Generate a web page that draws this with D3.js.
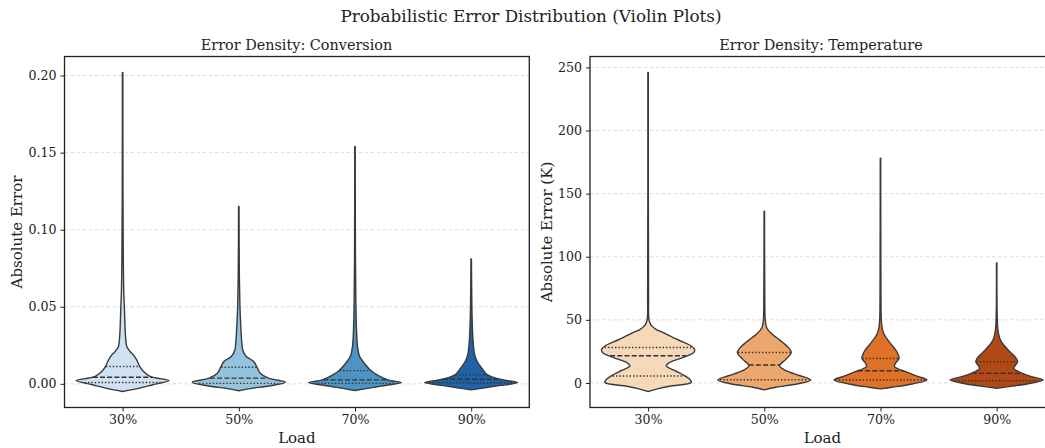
<!DOCTYPE html>
<html>
<head>
<meta charset="utf-8">
<script src="https://cdn.jsdelivr.net/npm/d3@7"></script>
<style>
  body { margin: 0; background: #fff; }
  svg text { font-family: "DejaVu Serif", serif; fill: #222; }
</style>
</head>
<body>
<div id="chart"></div>
<script>
var W = 1045, H = 448;

var loads = ["30%", "50%", "70%", "90%"];

// violin outlines: [value, relative half width]
var convProfiles = [
  [[-0.005,0],[-0.0028,0.36],[-0.0006,0.65],[0.0021,1.0],[0.0047,0.6],[0.008,0.45],[0.0112,0.37],[0.0145,0.32],[0.0177,0.26],[0.021,0.16],[0.0242,0.09],[0.03,0.065],[0.035,0.055],[0.048,0.04],[0.06,0.025],[0.08,0.015],[0.12,0.008],[0.202,0.005]],
  [[-0.0045,0],[-0.0028,0.3],[-0.0017,0.58],[0.0011,1.0],[0.0037,0.64],[0.0069,0.46],[0.0108,0.39],[0.0145,0.32],[0.0165,0.22],[0.0177,0.16],[0.022,0.085],[0.0285,0.06],[0.039,0.04],[0.05,0.025],[0.07,0.012],[0.115,0.005]],
  [[-0.0043,0],[-0.0028,0.3],[-0.0017,0.5],[0.0008,1.0],[0.0026,0.7],[0.0058,0.48],[0.0086,0.34],[0.0134,0.2],[0.0177,0.1],[0.024,0.055],[0.033,0.035],[0.05,0.02],[0.08,0.01],[0.154,0.005]],
  [[-0.0039,0],[-0.0028,0.25],[-0.0017,0.47],[0.0008,1.0],[0.003,0.62],[0.0058,0.35],[0.0101,0.23],[0.0145,0.13],[0.0188,0.075],[0.026,0.045],[0.04,0.022],[0.081,0.005]]
];
var convQuarts = [[0.0009,0.0043,0.0112],[0.0003,0.0037,0.0108],[0.0003,0.0026,0.0086],[0.0005,0.003,0.0058]];

var tempProfiles = [
  [[-6.8,0],[-4.5,0.22],[-2.6,0.46],[0.5,0.93],[3.1,0.89],[7.1,0.72],[9.7,0.58],[13.6,0.39],[16,0.45],[18.9,0.65],[22,0.88],[24,0.98],[26.5,1.0],[29.3,0.93],[32.5,0.75],[35.9,0.54],[39.8,0.33],[42.5,0.17],[46,0.06],[50,0.02],[70,0.01],[246,0.005]],
  [[-5.5,0],[-3.4,0.25],[-0.8,0.7],[2.4,1.0],[5.7,0.77],[9.7,0.47],[13.6,0.33],[18.9,0.47],[24.1,0.58],[28,0.52],[32,0.4],[36,0.26],[39.9,0.13],[44,0.05],[50,0.02],[70,0.01],[136,0.005]],
  [[-4.7,0],[-3.4,0.25],[-0.8,0.68],[2.4,1.0],[5.4,0.78],[8.4,0.58],[13.1,0.3],[16,0.33],[19.4,0.4],[22.5,0.38],[25.4,0.34],[32,0.2],[37,0.1],[42.5,0.04],[50,0.018],[70,0.01],[178,0.005]],
  [[-4.2,0],[-2.7,0.3],[-0.8,0.65],[2.4,1.0],[5,0.75],[7.6,0.55],[11.5,0.37],[14,0.4],[16.8,0.45],[19.5,0.42],[22.8,0.34],[26,0.25],[29.3,0.17],[34,0.08],[39.8,0.035],[48,0.015],[95,0.005]]
];
var tempQuarts = [[5.5,21.5,28.1],[2.6,14.2,24.1],[2.4,9.7,19.4],[1.8,7.6,16.8]];

var convTicks = [0, 0.05, 0.10, 0.15, 0.20];
var tempTicks = [0, 50, 100, 150, 200, 250];

var blues = ["#d0e1f1", "#95c3de", "#4b94c4", "#1f62a6"];
var oranges = ["#f7d8b8", "#eda66c", "#e07228", "#b04915"];

var svg = d3.select("#chart").append("svg")
  .attr("width", W)
  .attr("height", H);

svg.append("text")
  .attr("x", 531).attr("y", 22)
  .attr("text-anchor", "middle")
  .style("font-size", "16.8px")
  .text("Probabilistic Error Distribution (Violin Plots)");

drawPanel({
  left: 64.5, right: 529.3, top: 56.5, bottom: 407.5,
  title: "Error Density: Conversion", ylabel: "Absolute Error", ylabelX: 22,
  profiles: convProfiles, quarts: convQuarts, ticks: convTicks,
  fmt: d3.format(".2f"), colors: blues, titleX: 296.5
});

drawPanel({
  left: 590, right: 1054.8, top: 56.5, bottom: 407.5,
  title: "Error Density: Temperature", ylabel: "Absolute Error (K)", ylabelX: 552,
  profiles: tempProfiles, quarts: tempQuarts, ticks: tempTicks,
  fmt: d3.format("d"), colors: oranges, titleX: 821
});

function drawPanel(p) {
  var all = [];
  p.profiles.forEach(function (pr) { pr.forEach(function (d) { all.push(d[0]); }); });
  var ext = d3.extent(all);
  var pad = (ext[1] - ext[0]) * 0.05;

  var x = d3.scaleLinear().domain([-0.5, 3.5]).range([p.left, p.right]);
  var y = d3.scaleLinear().domain([ext[0] - pad, ext[1] + pad]).range([p.bottom, p.top]);
  var halfMax = (x(1) - x(0)) * 0.4;

  var g = svg.append("g");

  // grid
  g.selectAll(".grid").data(p.ticks).enter().append("line")
    .attr("x1", p.left).attr("x2", p.right)
    .attr("y1", function (d) { return y(d); })
    .attr("y2", function (d) { return y(d); })
    .attr("stroke", "#d4d4d4")
    .attr("stroke-width", 0.8)
    .attr("stroke-dasharray", "3.5,2.5");

  p.profiles.forEach(function (prof, i) {
    var cx = x(i);
    var area = d3.area()
      .curve(d3.curveCatmullRom.alpha(0.5))
      .y(function (d) { return y(d[0]); })
      .x0(function (d) { return cx - d[1] * halfMax; })
      .x1(function (d) { return cx + d[1] * halfMax; });

    g.append("path")
      .datum(prof)
      .attr("d", area)
      .attr("fill", p.colors[i])
      .attr("stroke", "#3a3a3a")
      .attr("stroke-width", 1.4)
      .attr("stroke-linejoin", "round");

    // quartile lines
    p.quarts[i].forEach(function (q, k) {
      var w = widthAt(prof, q) * halfMax;
      g.append("line")
        .attr("x1", cx - w).attr("x2", cx + w)
        .attr("y1", y(q)).attr("y2", y(q))
        .attr("stroke", "#333")
        .attr("stroke-width", 1.4)
        .attr("stroke-dasharray", k == 1 ? "5,2.2" : "1.4,2");
    });
  });

  // frame
  g.append("rect")
    .attr("x", p.left).attr("y", p.top)
    .attr("width", p.right - p.left).attr("height", p.bottom - p.top)
    .attr("fill", "none")
    .attr("stroke", "#222")
    .attr("stroke-width", 1.3);

  var yAxis = d3.axisLeft(y).tickValues(p.ticks).tickFormat(p.fmt).tickSize(4).tickPadding(4);
  var ya = g.append("g").attr("transform", "translate(" + p.left + ",0)").call(yAxis);
  var xAxis = d3.axisBottom(x).tickValues([0, 1, 2, 3]).tickFormat(function (d) { return loads[d]; }).tickSize(4).tickPadding(4);
  var xa = g.append("g").attr("transform", "translate(0," + p.bottom + ")").call(xAxis);
  [ya, xa].forEach(function (a) {
    a.select(".domain").remove();
    a.selectAll(".tick line").attr("stroke", "#222").attr("stroke-width", 1);
    a.selectAll(".tick text").style("font-size", "12.6px").attr("fill", "#222");
  });

  g.append("text")
    .attr("x", p.titleX)
    .attr("y", 50)
    .attr("text-anchor", "middle")
    .style("font-size", "14.4px")
    .text(p.title);

  g.append("text")
    .attr("x", (p.left + p.right) / 2)
    .attr("y", 443)
    .attr("text-anchor", "middle")
    .style("font-size", "15px")
    .text("Load");

  g.append("text")
    .attr("transform", "translate(" + p.ylabelX + "," + ((p.top + p.bottom) / 2) + ") rotate(-90)")
    .attr("text-anchor", "middle")
    .style("font-size", "15px")
    .text(p.ylabel);
}

function widthAt(prof, v) {
  for (var j = 0; j < prof.length - 1; j++) {
    var a = prof[j], b = prof[j + 1];
    if (v >= a[0] && v <= b[0]) {
      var t = (v - a[0]) / (b[0] - a[0]);
      return (a[1] + t * (b[1] - a[1])) * 0.97;
    }
  }
  return 0;
}
</script>
</body>
</html>
